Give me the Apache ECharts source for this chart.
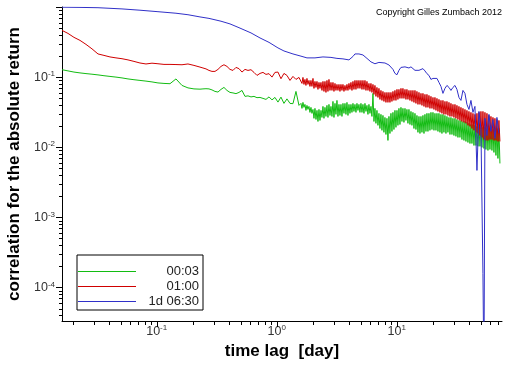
<!DOCTYPE html>
<html><head><meta charset="utf-8">
<script src="https://cdn.jsdelivr.net/npm/echarts@6/dist/echarts.min.js"></script>
<style>html,body{margin:0;padding:0;background:#fff}#c{width:512px;height:366px}</style>
</head><body><div id="c"></div>
<script>
// ---------- data (time lag in days, correlation of |return|) ----------
const seriesNames = ['00:03', '01:00', '1d 06:30'];

// lag grid shared by the 00:03 and 01:00 series
const lagGrid = [
  0.01625, 0.01823, 0.02045, 0.02295, 0.02575, 0.02889, 0.03242, 0.03637, 0.04081, 0.04579,
  0.05138, 0.05765, 0.06468, 0.07257, 0.08143, 0.09137, 0.1025, 0.1150, 0.1291, 0.1448,
  0.1625, 0.1823, 0.2045, 0.2295,
  0.2430, 0.2575, 0.2728, 0.2889, 0.3061, 0.3242, 0.3435, 0.3637, 0.3853, 0.4081,
  0.4324, 0.4580, 0.4852, 0.5139, 0.5444, 0.5767, 0.6109, 0.6471, 0.6855, 0.7262,
  0.7692, 0.8148, 0.8631, 0.9138, 0.9678, 1.025, 1.086, 1.150, 1.218, 1.291,
  1.367, 1.448, 1.534,
  1.594, 1.625, 1.656, 1.688, 1.721, 1.754, 1.788, 1.823, 1.858, 1.894,
  1.931, 1.968, 2.007, 2.046, 2.085, 2.126, 2.167, 2.209, 2.252, 2.296,
  2.340, 2.385, 2.431, 2.478, 2.526, 2.575, 2.625, 2.676, 2.728, 2.781,
  2.834, 2.889, 2.945, 3.002, 3.061, 3.120, 3.180, 3.242, 3.305, 3.369,
  3.434, 3.501, 3.568, 3.637, 3.708, 3.780, 3.853, 3.928, 4.004, 4.081,
  4.160, 4.241, 4.323, 4.407, 4.492, 4.579, 4.668, 4.758, 4.850, 4.944,
  5.040, 5.138, 5.237, 5.339, 5.442, 5.548, 5.655, 5.765, 5.876, 5.990,
  6.106, 6.224, 6.345, 6.468, 6.593, 6.721, 6.851, 6.984, 7.119, 7.257,
  7.397, 7.541, 7.687, 7.836, 7.987, 8.142, 8.300, 8.461, 8.624, 8.791,
  8.962, 9.135, 9.312, 9.493, 9.676, 9.864, 10.06, 10.25, 10.45, 10.65,
  10.86, 11.07, 11.28, 11.50, 11.73, 11.95, 12.18, 12.42, 12.66, 12.91,
  13.16, 13.41, 13.67, 13.94, 14.21, 14.48, 14.76, 15.05, 15.34, 15.64,
  15.94, 16.25, 16.56, 16.89, 17.21, 17.55, 17.88, 18.23, 18.58, 18.94,
  19.31, 19.69, 20.07, 20.46, 20.85, 21.26, 21.67, 22.09, 22.52, 22.96,
  23.40, 23.85, 24.31, 24.78, 25.26, 25.75, 26.25, 26.76, 27.28, 27.81,
  28.34, 28.89, 29.45, 30.02, 30.61, 31.20, 31.80, 32.42, 33.05, 33.69,
  34.34, 35.00, 35.68, 36.37, 37.08, 37.80, 38.53, 39.28, 40.04, 40.81,
  41.60, 42.41, 43.23, 44.07, 44.92, 45.79, 46.68, 47.58, 48.50, 49.44,
  50.40, 51.38, 52.37, 53.39, 54.42, 55.48, 56.55, 57.65, 58.76, 59.90,
  61.06, 62.24, 63.45, 64.68, 65.93, 67.21, 68.51, 69.84, 71.19, 72.57
];

const corr0003 = [
  0.1275, 0.1226, 0.118, 0.1148, 0.1122, 0.110, 0.1075, 0.1047, 0.1023, 0.1000,
  0.0974, 0.0942, 0.0918, 0.0897, 0.0877, 0.0854, 0.0826, 0.0813, 0.0805, 0.0942,
  0.0761, 0.0702, 0.0679, 0.0673,
  0.0679, 0.0683, 0.0679, 0.0657, 0.0625, 0.0612, 0.0668, 0.0713, 0.0646, 0.0605,
  0.0595, 0.0581, 0.0605, 0.0646, 0.0531, 0.0540, 0.0522, 0.0531, 0.0509, 0.0513,
  0.0497, 0.0481, 0.0522, 0.0473, 0.0513, 0.0440, 0.0518, 0.0422, 0.0489, 0.0422,
  0.0418, 0.0625, 0.0395,
  0.0422, 0.0358, 0.0436, 0.0370, 0.0408, 0.0335, 0.0395, 0.0346, 0.0382, 0.0314,
  0.0370, 0.0304, 0.0346, 0.0258, 0.0358, 0.0249, 0.0335, 0.0233, 0.0346, 0.0241,
  0.0335, 0.0266, 0.0382, 0.0258, 0.0370, 0.0275, 0.0395, 0.0266, 0.0408, 0.0284,
  0.0382, 0.0275, 0.0450, 0.0266, 0.0422, 0.0294, 0.0465, 0.0275, 0.0408, 0.0284,
  0.0408, 0.0275, 0.0422, 0.0304, 0.0422, 0.0294, 0.0436, 0.0284, 0.0408, 0.0304,
  0.0408, 0.0314, 0.0422, 0.0324, 0.0408, 0.0314, 0.0422, 0.0335, 0.0408, 0.0314,
  0.0422, 0.0314, 0.0408, 0.0304, 0.0422, 0.0324, 0.0395, 0.0294, 0.0408, 0.0304,
  0.0382, 0.0275, 0.0586, 0.0233, 0.0358, 0.0219, 0.0335, 0.0205, 0.0304, 0.0185,
  0.0294, 0.0174, 0.0284, 0.0163, 0.0266, 0.0152, 0.0258, 0.0125, 0.0275, 0.0157,
  0.0304, 0.0168, 0.0314, 0.0179, 0.0335, 0.0192, 0.0335, 0.0205, 0.0358, 0.0211,
  0.0370, 0.0233, 0.0358, 0.0226, 0.0358, 0.0241, 0.0346, 0.0219, 0.0346, 0.0211,
  0.0324, 0.0205, 0.0314, 0.0185, 0.0304, 0.0179, 0.0284, 0.0163, 0.0275, 0.0157,
  0.0275, 0.0163, 0.0284, 0.0157, 0.0294, 0.0168, 0.0304, 0.0168, 0.0304, 0.0174,
  0.0314, 0.0179, 0.0314, 0.0174, 0.0304, 0.0174, 0.0304, 0.0168, 0.0304, 0.0163,
  0.0294, 0.0157, 0.0294, 0.0163, 0.0284, 0.0157, 0.0275, 0.0163, 0.0266, 0.0152,
  0.0266, 0.0152, 0.0258, 0.0147, 0.0258, 0.0143, 0.0249, 0.0138, 0.0241, 0.0138,
  0.0241, 0.0129, 0.0233, 0.0125, 0.0233, 0.0121, 0.0226, 0.0117, 0.0219, 0.0113,
  0.0211, 0.0113, 0.0211, 0.0106, 0.0205, 0.0106, 0.0198, 0.0103, 0.0198, 0.0103,
  0.0192, 0.00993, 0.0192, 0.00961, 0.0192, 0.00930, 0.0185, 0.00900, 0.0185, 0.00930,
  0.0185, 0.00900, 0.0179, 0.00843, 0.0185, 0.00764, 0.0185, 0.00692, 0.0185, 0.00587
];

const corr0100 = [
  0.464, 0.420, 0.369, 0.334, 0.293, 0.253, 0.214, 0.204, 0.194, 0.188,
  0.183, 0.176, 0.1675, 0.159, 0.154, 0.158, 0.155, 0.1518, 0.1518, 0.151,
  0.150, 0.154, 0.1469, 0.139,
  0.135, 0.131, 0.1246, 0.1206, 0.1206, 0.1288, 0.1421, 0.150, 0.1421, 0.1288,
  0.1246, 0.1375, 0.132, 0.118, 0.1288, 0.1246, 0.1275, 0.1167, 0.1057, 0.1129,
  0.1167, 0.1093, 0.112, 0.100, 0.1167, 0.118, 0.0948, 0.1129, 0.1057, 0.0897,
  0.1023, 0.0927, 0.0990,
  0.0958, 0.0813, 0.0990, 0.0787, 0.0927, 0.0761, 0.0958, 0.0787, 0.0897, 0.0737,
  0.0897, 0.0737, 0.0958, 0.0690, 0.0868, 0.0713, 0.0868, 0.0668, 0.0840, 0.0690,
  0.0840, 0.0646, 0.0868, 0.0625, 0.0868, 0.0605, 0.0897, 0.0625, 0.0927, 0.0646,
  0.0840, 0.0646, 0.0840, 0.0625, 0.0813, 0.0646, 0.0787, 0.0646, 0.0787, 0.0625,
  0.0787, 0.0646, 0.0787, 0.0625, 0.0761, 0.0646, 0.0787, 0.0646, 0.0813, 0.0668,
  0.0840, 0.0646, 0.0868, 0.0668, 0.0897, 0.0668, 0.0897, 0.0690, 0.0897, 0.0690,
  0.0897, 0.0668, 0.0897, 0.0668, 0.0897, 0.0646, 0.0868, 0.0646, 0.0813, 0.0625,
  0.0813, 0.0605, 0.0787, 0.0567, 0.0761, 0.0531, 0.0713, 0.0513, 0.0690, 0.0481,
  0.0646, 0.0465, 0.0625, 0.0450, 0.0605, 0.0436, 0.0605, 0.0436, 0.0605, 0.0436,
  0.0605, 0.0450, 0.0625, 0.0465, 0.0646, 0.0465, 0.0668, 0.0481, 0.0668, 0.0497,
  0.0690, 0.0497, 0.0690, 0.0497, 0.0668, 0.0481, 0.0668, 0.0481, 0.0646, 0.0465,
  0.0646, 0.0450, 0.0646, 0.0436, 0.0646, 0.0422, 0.0625, 0.0408, 0.0605, 0.0408,
  0.0586, 0.0395, 0.0586, 0.0382, 0.0567, 0.0370, 0.0567, 0.0370, 0.0548, 0.0358,
  0.0531, 0.0358, 0.0513, 0.0346, 0.0513, 0.0335, 0.0497, 0.0324, 0.0481, 0.0314,
  0.0465, 0.0304, 0.0465, 0.0294, 0.0450, 0.0294, 0.0450, 0.0284, 0.0436, 0.0275,
  0.0422, 0.0275, 0.0408, 0.0266, 0.0408, 0.0258, 0.0395, 0.0249, 0.0382, 0.0241,
  0.0370, 0.0233, 0.0358, 0.0226, 0.0346, 0.0219, 0.0335, 0.0205, 0.0324, 0.0198,
  0.0314, 0.0185, 0.0304, 0.0174, 0.0294, 0.0163, 0.0304, 0.0157, 0.0314, 0.0147,
  0.0324, 0.0138, 0.0324, 0.0129, 0.0314, 0.0125, 0.0304, 0.0125, 0.0284, 0.0129,
  0.0275, 0.0129, 0.0266, 0.0125, 0.0258, 0.0125, 0.0249, 0.0121, 0.0241, 0.0121
];

const lag1d0630 = [
  0.01625, 0.02295, 0.03242, 0.05138, 0.07257, 0.1025, 0.1448, 0.1823, 0.2295, 0.2728,
  0.3435, 0.4081, 0.4852, 0.6109, 0.7262, 0.8631, 1.025, 1.150, 1.367, 1.594,
  1.788, 2.085, 2.431, 2.834, 3.180, 3.568, 4.004, 4.323, 4.492, 4.850,
  5.237, 5.655, 6.106, 6.593, 7.119, 7.397, 7.987, 8.624, 9.312, 9.676,
  10.06, 10.45, 10.86, 11.28, 11.73, 12.18, 12.66, 13.16, 13.67, 14.21,
  14.76, 15.34, 15.94, 16.56, 17.21, 17.88, 18.58, 19.31, 20.07, 20.85,
  21.67, 22.52, 23.40, 24.31, 25.26, 26.25, 27.28, 28.34, 29.45, 30.61,
  31.80, 33.05, 34.34, 35.68, 37.08, 38.53, 40.04, 41.60, 43.23, 44.92,
  46.68, 48.50, 50.40, 52.37, 53.4, 54.42, 56.55, 58.76, 61.06, 63.45,
  65.93, 68.51, 71.19
];
const corr1d0630 = [
  0.9935, 0.987, 0.977, 0.939, 0.900, 0.857, 0.815, 0.776, 0.722, 0.688,
  0.627, 0.574, 0.507, 0.427, 0.362, 0.313, 0.261, 0.236, 0.214, 0.199,
  0.188, 0.188, 0.194, 0.191, 0.185, 0.182, 0.176, 0.197, 0.214, 0.214,
  0.207, 0.185, 0.165, 0.155, 0.162, 0.1675, 0.159, 0.149, 0.129, 0.113,
  0.108, 0.125, 0.1375, 0.1445, 0.140, 0.133, 0.135, 0.140, 0.133, 0.125,
  0.118, 0.125, 0.131, 0.132, 0.1226, 0.112, 0.1057, 0.0927, 0.0958, 0.101,
  0.0958, 0.084, 0.0737, 0.0586, 0.069, 0.0761, 0.0713, 0.0646, 0.0713, 0.0761,
  0.0668, 0.0513, 0.0465, 0.0646, 0.0586, 0.0408, 0.0346, 0.0465, 0.0314, 0.0382,
  0.00467, 0.0324, 0.0185, 0.000158, 0.000005, 0.0258, 0.0147, 0.0294, 0.0168, 0.0249,
  0.0134, 0.0266, 0.0157
];

// labelled decades
const xTickLabels = [0.1, 1, 10];
const yTickLabels = [1e-4, 1e-3, 1e-2, 1e-1];
const copyrightText = 'Copyright Gilles Zumbach 2012';
const xTitle = 'time lag  [day]';
const yTitle = 'correlation for the absolute return';

// ---------- chart ----------
const X_MIN = 0.01625, X_MAX = 75.5;
const Y_MIN = 3.32e-5, Y_MAX = 1;
const FONT = 'Liberation Sans';
const colors = ['#12bc12', '#d00000', '#3030c8'];

function isDecade(v) {
  const l = Math.log10(v);
  return Math.abs(l - Math.round(l)) < 1e-6;
}
function logTicks(lo, hi) {
  const out = [];
  for (let e = -6; e <= 3; e++) {
    for (let m = 1; m <= 9; m++) {
      const v = +(m * Math.pow(10, e)).toPrecision(6);
      if (v >= lo * 0.9999 && v <= hi * 1.0001) out.push(v);
    }
  }
  return out;
}
function labelFmt(list) {
  return function (value) {
    for (const t of list) {
      if (Math.abs(Math.log10(value) - Math.log10(t)) < 1e-6) {
        return '{b|10}{s|' + Math.round(Math.log10(t)) + '}';
      }
    }
    return '';
  };
}
const labelRich = {
  b: { fontSize: 12.5, fontFamily: FONT, color: '#333', lineHeight: 14, verticalAlign: 'bottom' },
  s: { fontSize: 8, fontFamily: FONT, color: '#333', lineHeight: 9, verticalAlign: 'top' }
};

const chart = echarts.init(document.getElementById('c'), null, { renderer: 'canvas' });

const lineSeries = [
  { name: seriesNames[0], lag: lagGrid, corr: corr0003 },
  { name: seriesNames[1], lag: lagGrid, corr: corr0100 },
  { name: seriesNames[2], lag: lag1d0630, corr: corr1d0630 }
].map((s, i) => ({
  name: s.name,
  type: 'line',
  data: s.lag.map((x, k) => [x, s.corr[k]]),
  symbol: 'none',
  showSymbol: false,
  lineStyle: { width: 1, color: colors[i] },
  itemStyle: { color: colors[i] },
  color: colors[i],
  z: 2 + i,
  animation: false
}));

const xTickSeries = {
  name: 'xticks', type: 'custom', silent: true, clip: false, z: 10,
  data: logTicks(X_MIN, X_MAX).map(v => [v, Y_MIN]),
  encode: { x: 0, y: 1 },
  renderItem: function (params, api) {
    const v = api.value(0);
    const p = api.coord([v, Y_MIN]);
    const x = Math.round(p[0]) + 0.5;
    const y = Math.round(p[1]);
    return { type: 'line', shape: { x1: x, y1: y, x2: x, y2: y + (isDecade(v) ? 6 : 4) },
             style: { stroke: '#000', lineWidth: 1 } };
  }
};
const yTickSeries = {
  name: 'yticks', type: 'custom', silent: true, clip: false, z: 10,
  data: logTicks(Y_MIN, Y_MAX).map(v => [X_MIN, v]),
  encode: { x: 0, y: 1 },
  renderItem: function (params, api) {
    const v = api.value(1);
    const p = api.coord([X_MIN, v]);
    const x = Math.round(p[0]);
    const y = Math.round(p[1]) + 0.5;
    return { type: 'line', shape: { x1: x - (isDecade(v) ? 6 : 3), y1: y, x2: x, y2: y },
             style: { stroke: '#000', lineWidth: 1 } };
  }
};

chart.setOption({
  animation: false,
  backgroundColor: '#fff',
  title: {
    text: copyrightText, right: 10, top: 8, padding: 0,
    textStyle: { fontSize: 9, fontWeight: 'normal', color: '#000', fontFamily: FONT }
  },
  grid: { left: 62, right: 10, top: 7, bottom: 45, containLabel: false, outerBoundsMode: 'none' },
  legend: {
    data: seriesNames.map(n => ({ name: n, icon: 'path://M0,0H58V1H0Z' })),
    orient: 'vertical', left: 77, top: 255,
    padding: [10, 4, 2, 1], itemGap: 2, itemWidth: 58, itemHeight: 14,
    symbolKeepAspect: true,
    borderColor: '#000', borderWidth: 1, borderRadius: 0, backgroundColor: '#fff',
    selectedMode: false,
    formatter: n => '{t|' + n + '}',
    textStyle: { color: '#222', fontFamily: FONT, fontSize: 13,
      rich: { t: { width: 58, align: 'right', fontSize: 13, fontFamily: FONT, color: '#222' } } }
  },
  xAxis: {
    type: 'log', logBase: 10, min: X_MIN, max: X_MAX,
    axisLine: { show: true, lineStyle: { color: '#000', width: 1 } },
    axisTick: { show: false }, minorTick: { show: false },
    splitLine: { show: false }, minorSplitLine: { show: false },
    axisLabel: { formatter: labelFmt(xTickLabels), margin: 3, rich: labelRich, showMinLabel: true, showMaxLabel: true },
    name: xTitle, nameLocation: 'middle', nameGap: 22,
    nameTextStyle: { fontSize: 17, fontWeight: 'bold', color: '#000', fontFamily: FONT }
  },
  yAxis: {
    type: 'log', logBase: 10, min: Y_MIN, max: Y_MAX,
    axisLine: { show: true, lineStyle: { color: '#000', width: 1 } },
    axisTick: { show: false }, minorTick: { show: false },
    splitLine: { show: false }, minorSplitLine: { show: false },
    axisLabel: { formatter: labelFmt(yTickLabels), margin: 7, rich: labelRich },
    name: yTitle, nameLocation: 'middle', nameGap: 38,
    nameTextStyle: { fontSize: 17, fontWeight: 'bold', color: '#000', fontFamily: FONT }
  },
  tooltip: { show: false },
  series: lineSeries.concat([xTickSeries, yTickSeries])
});
</script>
</body></html>
